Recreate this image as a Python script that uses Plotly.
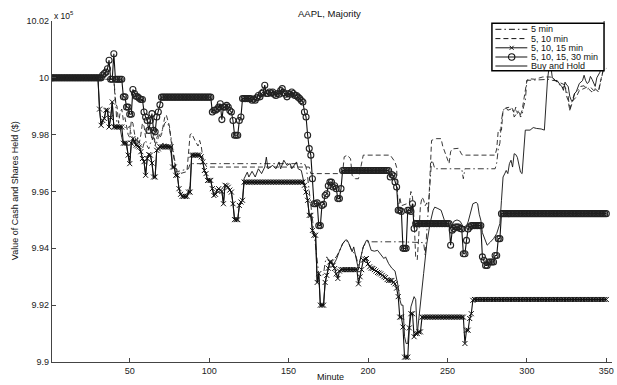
import plotly.graph_objects as go

# ---------------- data (values in units of 1e5 $) ----------------
N_MIN = 350
minutes = list(range(1, N_MIN + 1))

# step series: (start minute, value) held until the next start minute
circ_steps = [(1,10.0),(33,10.001),(34,10.0015),(35,10.002),(36,10.0032),(37,10.0062),(38,9.9995),(40,10.0085),
 (41,9.9995),(46,9.9933),(48,9.9897),(50,9.9872),(52,9.9959),(53,9.9945),(54,9.9935),(55,9.9933),(56,9.9928),
 (57,9.9924),(59,9.988),(60,9.9862),(61,9.985),(62,9.9815),(63,9.985),(64,9.9874),(65,9.9815),(66,9.981),
 (67,9.9862),(68,9.988),(69,9.9905),(70,9.9932),(102,9.988),(103,9.9886),(105,9.989),(106,9.9897),(107,9.9909),
 (108,9.9853),(109,9.9897),(111,9.9903),(112,9.9897),(113,9.9885),(114,9.988),(115,9.985),(116,9.9798),
 (119,9.985),(120,9.9862),(121,9.9927),(127,9.9921),(128,9.9925),(129,9.9921),(130,9.993),(131,9.9938),
 (132,9.9933),(133,9.9945),(134,9.995),(135,9.9974),(136,9.9945),(138,9.995),(139,9.9947),(140,9.995),
 (141,9.9942),(142,9.9938),(143,9.9945),(144,9.9942),(145,9.9955),(146,9.9962),(147,9.9948),(148,9.9942),
 (149,9.9933),(150,9.9945),(151,9.9942),(152,9.995),(153,9.9945),(154,9.9938),(156,9.9932),(157,9.9927),
 (158,9.992),(159,9.9915),(160,9.988),(161,9.9862),(162,9.9798),(163,9.9751),(164,9.9728),(165,9.9645),
 (166,9.9557),(168,9.956),(169,9.948),(171,9.9551),(172,9.9555),(173,9.9586),(174,9.9592),(175,9.962),
 (176,9.9633),(178,9.9616),(179,9.962),(180,9.961),(181,9.9575),(183,9.961),(184,9.9674),(214,9.9651),
 (215,9.966),(216,9.9655),(217,9.9633),(218,9.9616),(219,9.9534),(221,9.953),(222,9.94),(225,9.9534),
 (227,9.953),(228,9.9557),(229,9.947),(230,9.9487),(252,9.9411),(253,9.9464),(254,9.947),(255,9.9475),
 (258,9.947),(259,9.9468),(260,9.9381),(262,9.9428),(263,9.9468),(264,9.9475),(265,9.948),(272,9.937),
 (273,9.9358),(274,9.934),(276,9.9352),(280,9.9375),(282,9.9434),(284,9.9522)]

xmk_steps = [(1,10.0),(31,9.989),(32,9.9833),(33,9.985),(34,9.9857),(35,9.9886),(37,9.9827),(38,9.986),
 (39,9.9915),(40,9.9827),(46,9.977),(49,9.9728),(50,9.9698),(51,9.977),(52,9.9786),(53,9.9775),(54,9.9763),
 (55,9.976),(56,9.9757),(57,9.974),(58,9.9716),(59,9.9705),(60,9.9657),(61,9.9716),(62,9.973),(63,9.9728),
 (64,9.97),(65,9.9651),(67,9.9745),(68,9.975),(69,9.9757),(77,9.9686),(79,9.9657),(81,9.961),(82,9.959),
 (83,9.9583),(87,9.9598),(89,9.9728),(95,9.9722),(96,9.9704),(97,9.9674),(98,9.9663),(99,9.9639),(102,9.961),
 (103,9.9586),(104,9.959),(105,9.9604),(106,9.961),(107,9.9604),(108,9.96),(109,9.9557),(110,9.9622),
 (111,9.962),(112,9.9615),(113,9.9605),(114,9.9598),(115,9.9557),(116,9.9501),(119,9.9551),(120,9.9563),
 (121,9.9569),(122,9.9633),(160,9.9622),(161,9.9598),(162,9.9569),(163,9.9516),(165,9.9463),(166,9.9446),
 (168,9.928),(169,9.9311),(170,9.92),(173,9.928),(174,9.9305),(175,9.933),(176,9.9352),(178,9.934),
 (179,9.9329),(180,9.931),(181,9.9294),(182,9.932),(183,9.9325),(194,9.9275),(195,9.93),(196,9.9325),
 (197,9.9358),(198,9.9362),(199,9.9364),(200,9.9345),(201,9.9335),(202,9.933),(203,9.9329),(204,9.9325),
 (205,9.932),(206,9.9315),(207,9.9313),(208,9.931),(209,9.9305),(210,9.93),(211,9.9297),(212,9.929),
 (213,9.9287),(216,9.928),(217,9.9275),(218,9.926),(219,9.923),(220,9.9158),(222,9.9123),(223,9.9017),
 (226,9.912),(227,9.917),(229,9.9089),(230,9.91),(232,9.9106),(234,9.9158),(261,9.9065),(262,9.9112),
 (264,9.9153),(265,9.917),(266,9.9217),(267,9.922)]

# line series: (minute, value) points
dashdot_pts = [(1,10.0),(31,10.0),(32,9.9995),(40,9.9995),(41,9.993),(42,9.983),(47,9.9827),(48,9.982),
 (50,9.983),(51,9.98),(52,9.979),(53,9.977),(54,9.976),(55,9.978),(56,9.977),(57,9.976),(58,9.975),(59,9.977),
 (60,9.978),(61,9.976),(62,9.975),(63,9.977),(64,9.978),(65,9.979),(66,9.978),(67,9.977),(68,9.979),(69,9.98),
 (70,9.981),(71,9.982),(72,9.984),(73,9.9845),(74,9.984),(75,9.982),(76,9.979),(77,9.975),(78,9.972),
 (79,9.969),(80,9.967),(87,9.968),(88,9.9698),(160,9.9698),(161,9.9686),(162,9.965),(163,9.96),(164,9.955),
 (165,9.95),(166,9.946),(167,9.94),(168,9.935),(169,9.931),(171,9.93),(172,9.931),(173,9.935),(174,9.937),
 (176,9.9352),(178,9.936),(180,9.937),(182,9.939),(184,9.9416),(186,9.943),(188,9.9416),(190,9.9388),
 (192,9.9381),(194,9.934),(195,9.9358),(197,9.9405),(199,9.9423),(221,9.9423),(235,9.942),(236,9.9375),
 (237,9.945),(238,9.955),(239,9.962),(240,9.971),(241,9.970),(242,9.968),(259,9.968),(260,9.9645),
 (261,9.968),(280,9.968),(281,9.970),(282,9.975),(283,9.977),(284,9.985),(285,9.9886),(287,9.9895),
 (288,9.9886),(290,9.989),(291,9.9892),(292,9.9862),(294,9.988),(295,9.9886),(296,9.9862),(297,9.987),
 (298,9.99),(299,9.992),(300,9.9991),(315,9.9995),(316,9.9991),(318,9.999),(320,9.998),(322,9.9965),
 (324,9.997),(326,9.9935),(327,9.9886),(328,9.991),(330,9.9945),(332,9.9955),(334,9.997),(336,9.9972),
 (338,9.996),(340,9.9968),(342,9.9955),(344,9.996),(345,9.995),(346,9.9975),(347,10.0),(348,10.0025),
 (349,10.003),(350,10.0033)]

dashed_pts = [(1,10.0),(31,10.0),(32,9.9995),(40,9.9995),(41,9.991),(42,9.99),(43,9.984),(44,9.988),
 (45,9.989),(46,9.985),(47,9.986),(48,9.983),(49,9.980),(50,9.979),(51,9.985),(52,9.984),(53,9.98),(54,9.977),
 (55,9.979),(56,9.977),(57,9.98),(58,9.984),(59,9.983),(60,9.979),(61,9.982),(62,9.983),(63,9.982),(64,9.978),
 (65,9.98),(66,9.976),(67,9.979),(68,9.98),(69,9.979),(70,9.98),(71,9.983),(72,9.986),(73,9.987),(74,9.985),
 (75,9.983),(76,9.978),(77,9.974),(78,9.971),(79,9.968),(80,9.966),(86,9.967),(87,9.975),(88,9.980),
 (89,9.9804),(90,9.979),(91,9.978),(92,9.977),(93,9.976),(94,9.978),(95,9.976),(96,9.972),(97,9.970),
 (98,9.969),(99,9.9686),(163,9.9686),(164,9.9663),(184,9.9663),(185,9.9722),(187,9.9728),(189,9.9715),
 (190,9.9657),(192,9.9645),(194,9.9645),(196,9.9705),(197,9.9728),(214,9.9728),(217,9.9704),(218,9.9685),
 (219,9.953),(220,9.958),(221,9.955),(226,9.956),(227,9.960),(228,9.958),(229,9.95),(230,9.937),(231,9.936),
 (232,9.945),(233,9.955),(234,9.958),(235,9.957),(236,9.955),(237,9.956),(238,9.953),(239,9.965),(240,9.978),
 (243,9.9786),(246,9.9786),(247,9.976),(248,9.9745),(249,9.973),(250,9.972),(251,9.9698),(252,9.974),
 (253,9.975),(257,9.9752),(258,9.974),(259,9.973),(260,9.9728),(280,9.9728),(281,9.975),(282,9.9816),
 (284,9.9816),(285,9.9886),(287,9.9895),(290,9.9897),(291,9.989),(292,9.9875),(293,9.9897),(294,9.9875),
 (295,9.988),(296,9.987),(297,9.9886),(298,9.992),(299,9.996),(300,9.999),(301,9.9997),(305,9.9995),
 (310,10.0003),(315,10.0003),(316,9.9995),(318,9.999),(320,9.9985),(322,9.998),(324,9.9975),(325,9.9935),
 (326,9.992),(327,9.9886),(328,9.9905),(329,9.992),(331,9.9932),(333,9.9955),(335,9.996),(337,9.9965),
 (338,9.9968),(339,9.996),(341,9.995),(343,9.9962),(345,9.995),(346,9.998),(348,10.0027),(350,10.0033)]

bh_pts = [(1,10.0),(30,10.0),(31,9.989),(32,9.9833),(33,9.985),(34,9.9857),(35,9.9886),(36,9.9886),(37,9.9827),
 (38,9.986),(39,9.9915),(40,9.9827),(41,9.9825),(42,9.9822),(43,9.9828),(44,9.9823),(45,9.979),(46,9.977),
 (47,9.9775),(48,9.976),(49,9.9728),(50,9.9698),(51,9.977),(52,9.9786),(53,9.9775),(54,9.9763),(55,9.976),
 (56,9.9757),(57,9.974),(58,9.9716),(59,9.9705),(60,9.9657),(61,9.9716),(62,9.973),(63,9.9728),(64,9.97),
 (65,9.9651),(66,9.9651),(67,9.9745),(68,9.975),(69,9.9757),(70,9.9765),(71,9.977),(72,9.976),(73,9.9768),
 (74,9.9762),(75,9.9755),(76,9.9735),(77,9.9686),(78,9.9686),(79,9.9657),(80,9.9657),(81,9.961),(82,9.959),
 (83,9.9586),(84,9.958),(85,9.9578),(86,9.958),(87,9.9598),(88,9.962),(89,9.9728),(90,9.9735),(91,9.9725),
 (92,9.973),(93,9.9732),(94,9.9726),(95,9.9722),(96,9.9704),(97,9.9674),(98,9.9663),(99,9.9639),(100,9.9645),
 (101,9.9639),(102,9.961),(103,9.9586),(104,9.959),(105,9.9604),(106,9.961),(107,9.9604),(108,9.96),
 (109,9.9557),(110,9.9622),(111,9.962),(112,9.9615),(113,9.9605),(114,9.9598),(115,9.9557),(116,9.9501),
 (117,9.9498),(118,9.9501),(119,9.9551),(120,9.9563),(121,9.9569),(122,9.9645),(124,9.9668),(125,9.9651),
 (127,9.9671),(129,9.9651),(131,9.968),(133,9.9663),(135,9.9686),(136,9.9721),(137,9.968),(140,9.9692),
 (142,9.968),(144,9.9704),(145,9.968),(147,9.971),(149,9.9692),(151,9.9698),(152,9.968),(155,9.9704),
 (156,9.968),(158,9.9674),(159,9.9651),(160,9.9622),(161,9.9598),(162,9.9569),(163,9.9516),(164,9.9516),
 (165,9.9463),(166,9.9446),(167,9.9446),(168,9.928),(169,9.9311),(170,9.92),(172,9.92),(173,9.928),
 (174,9.9305),(175,9.933),(176,9.9352),(178,9.934),(180,9.936),(182,9.939),(184,9.9416),(186,9.943),
 (187,9.9428),(188,9.9416),(190,9.9388),(191,9.9405),(192,9.9381),(194,9.9325),(195,9.9358),(197,9.9405),
 (199,9.9428),(200,9.9428),(202,9.9393),(204,9.939),(206,9.9393),(208,9.938),(210,9.9364),(211,9.937),
 (213,9.9346),(215,9.933),(217,9.932),(219,9.9265),(220,9.922),(221,9.92),(222,9.92),(223,9.9089),
 (224,9.9065),(225,9.9065),(227,9.9194),(229,9.923),(230,9.922),(231,9.91),(233,9.9217),(235,9.9311),
 (237,9.9416),(239,9.9487),(241,9.9534),(242,9.9545),(244,9.954),(246,9.9534),(248,9.95),(250,9.9487),
 (252,9.9469),(254,9.9495),(256,9.95),(258,9.9495),(260,9.9475),(262,9.948),(263,9.9493),(265,9.9534),
 (266,9.9557),(268,9.9562),(269,9.9557),(270,9.952),(271,9.9499),(272,9.9455),(273,9.944),(275,9.9411),
 (277,9.9422),(279,9.9434),(281,9.9452),(283,9.9487),(284,9.9569),(285,9.9651),(286,9.9662),(287,9.9674),
 (288,9.9663),(289,9.9698),(290,9.971),(291,9.9686),(292,9.9733),(293,9.973),(294,9.972),(295,9.9686),
 (296,9.9668),(297,9.9663),(298,9.9745),(299,9.9816),(302,9.9816),(304,9.9825),(306,9.9822),(309,9.982),
 (311,9.9816),(312,9.9933),(313,9.9995),(314,10.0038),(315,10.0045),(316,10.0),(317,9.9997),(318,9.999),
 (319,9.9991),(321,9.9975),(322,9.997),(323,9.9956),(324,9.9985),(325,9.9975),(326,9.997),(327,9.9935),
 (328,9.992),(329,9.992),(330,9.9945),(331,9.995),(333,9.998),(335,9.999),(336,10.0009),(337,9.999),
 (338,9.998),(339,9.9985),(340,10.0005),(341,9.9995),(342,9.998),(343,9.997),(344,10.0),(345,10.0008),
 (346,10.002),(347,10.008),(348,10.014),(349,10.019),(350,10.03)]

x_ticks = [50, 100, 150, 200, 250, 300, 350]
y_ticks = [9.9, 9.92, 9.94, 9.96, 9.98, 10.0, 10.02]
y_tick_text = ["9.9", "9.92", "9.94", "9.96", "9.98", "10", "10.02"]
series_names = ["5 min", "5, 10 min", "5, 10, 15 min", "5, 10, 15, 30 min", "Buy and Hold"]


def hold(steps, n):
    vals = []
    for i, (m, v) in enumerate(steps):
        end = steps[i + 1][0] if i + 1 < len(steps) else n + 1
        vals += [v] * (end - m)
    return vals


circ_vals = hold(circ_steps, N_MIN)
xmk_vals = hold(xmk_steps, N_MIN)

FONT = "Liberation Sans, Arial, Helvetica, sans-serif"
INK = "#111111"
W, H = 617, 385
L, R, T, B = 52, 3, 21, 23
PW, PH = W - L - R, H - T - B


def px(x):
    return (x - L) / PW


def py(y):
    return 1 - (y - T) / PH


fig = go.Figure()
fig.add_trace(go.Scatter(x=[p[0] for p in dashdot_pts], y=[p[1] for p in dashdot_pts], mode="lines",
                         line=dict(color="#222", width=0.9, dash="6px,3px,1.5px,3px"), name=series_names[0]))
fig.add_trace(go.Scatter(x=[p[0] for p in dashed_pts], y=[p[1] for p in dashed_pts], mode="lines",
                         line=dict(color="#222", width=0.9, dash="5px,3px"), name=series_names[1]))
fig.add_trace(go.Scatter(x=[p[0] for p in bh_pts], y=[p[1] for p in bh_pts], mode="lines",
                         line=dict(color="#111", width=0.9), name=series_names[4]))
fig.add_trace(go.Scatter(x=minutes, y=xmk_vals, mode="lines+markers",
                         line=dict(color="#111", width=1.1),
                         marker=dict(symbol="x-thin-open", size=5, line=dict(color="#222", width=1)),
                         name=series_names[2]))
fig.add_trace(go.Scatter(x=minutes, y=circ_vals, mode="lines+markers",
                         line=dict(color="#111", width=1.1),
                         marker=dict(symbol="circle-open", size=6, color="#222", line=dict(color="#222", width=1.1)),
                         name=series_names[3]))

shapes = []
annotations = []
# legend box
shapes.append(dict(type="rect", xref="paper", yref="paper", x0=px(493.5), x1=px(606), y0=py(70.7), y1=py(23.3),
                   fillcolor="white", line=dict(color="black", width=1.5), layer="above"))
rows = [29.3, 38.6, 47.8, 57.0, 66.0]
dashes = ["6px,3px,1.5px,3px", "5px,3px", "solid", "solid", "solid"]
for i, (yy, d) in enumerate(zip(rows, dashes)):
    shapes.append(dict(type="line", xref="paper", yref="paper", x0=px(497), x1=px(529), y0=py(yy), y1=py(yy),
                       line=dict(color="#111", width=1, dash=d), layer="above"))
    annotations.append(dict(text=series_names[i], xref="paper", yref="paper", x=px(531), y=py(yy),
                            xanchor="left", yanchor="middle", showarrow=False,
                            font=dict(family=FONT, size=9, color=INK)))
# marker samples
cx, cy = 513.3, rows[2]
for s in (-1, 1):
    shapes.append(dict(type="line", xref="paper", yref="paper", x0=px(cx - 2), x1=px(cx + 2),
                       y0=py(cy - 2 * s), y1=py(cy + 2 * s), line=dict(color="#111", width=1), layer="above"))
cy = rows[3]
shapes.append(dict(type="circle", xref="paper", yref="paper", x0=px(cx - 3.2), x1=px(cx + 3.2),
                   y0=py(cy + 3.2), y1=py(cy - 3.2), line=dict(color="#111", width=1.1), layer="above"))

annotations += [
    dict(text="AAPL, Majority", xref="paper", yref="paper", x=px(330), y=py(13), xanchor="center",
         yanchor="middle", showarrow=False, font=dict(family=FONT, size=9.5, color=INK)),
    dict(text="x 10<sup>5</sup>", xref="paper", yref="paper", x=px(52), y=py(15), xanchor="left",
         yanchor="middle", showarrow=False, font=dict(family=FONT, size=8.5, color=INK)),
    dict(text="Minute", xref="paper", yref="paper", x=px(331), y=py(377), xanchor="center",
         yanchor="middle", showarrow=False, font=dict(family=FONT, size=9, color=INK)),
    dict(text="Value of Cash and Shares Held ($)", xref="paper", yref="paper", x=px(15), y=py(191),
         xanchor="center", yanchor="middle", textangle=-90, showarrow=False,
         font=dict(family=FONT, size=9, color=INK)),
]

axis_common = dict(showgrid=False, zeroline=False, showline=True, linecolor="#444", linewidth=1.2,
                   ticks="inside", ticklen=4, tickcolor="#444", tickwidth=1,
                   tickfont=dict(family=FONT, size=9, color="#222"))
px_per_min = (608.3 - 130) / 300.0
x_lo = 50 - (130 - L) / px_per_min
x_hi = 350 + ((W - R) - 608.3) / px_per_min

fig.update_layout(
    width=W, height=H, margin=dict(l=L, r=R, t=T, b=B, pad=0),
    paper_bgcolor="white", plot_bgcolor="white", showlegend=False,
    xaxis=dict(range=[x_lo, x_hi], tickvals=x_ticks, **axis_common),
    yaxis=dict(range=[9.9, 10.02], tickvals=y_ticks, ticktext=y_tick_text, **axis_common),
    shapes=shapes, annotations=annotations,
)
fig.write_html("out.html")
